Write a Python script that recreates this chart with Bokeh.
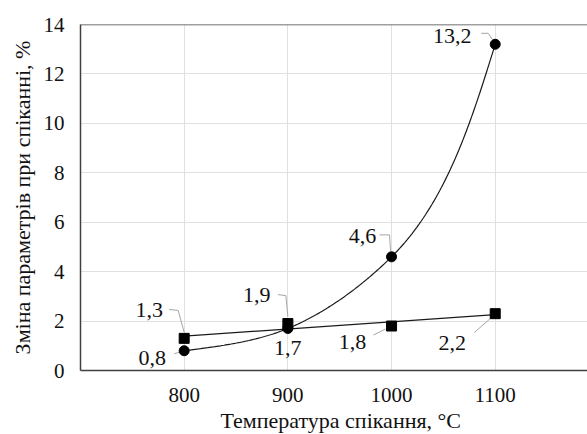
import numpy as np
from bokeh.plotting import figure
from bokeh.models import FixedTicker, Span, Range1d, Title
from bokeh.core.properties import value
from bokeh.embed import file_html
from bokeh.resources import INLINE

# ---- data ----
temps = [800, 900, 1000, 1100]
circle_vals = [0.8, 1.7, 4.6, 13.2]
square_vals = [1.3, 1.9, 1.8, 2.3]
circle_labels = ["0,8", "1,7", "4,6", "13,2"]
square_labels = ["1,3", "1,9", "1,8", "2,2"]
x_ticks = [800, 900, 1000, 1100]
y_ticks = [0, 2, 4, 6, 8, 10, 12, 14]
x_title = "Температура спікання, °C"
y_title = "Зміна параметрів при спіканні, %"

# label placement (screen pixel offsets from point: text centre, leader polyline)
circle_text_off = [(-32, 7), (0, 20), (-29, -21), (-43, -8)]
circle_leaders = [[(-10, 3), (-3, 1)], None, [(-12, -22), (-2, -22), (-1, -6)],
                  [(-14, -11), (-7, -11), (-3, -5)]]
square_text_off = [(-35, -28), (-31, -29), (-39, 16), (-43, 29)]
square_leaders = [[(-15, -29), (-6, -28), (0, -6)], [(-10, -29), (-2, -28), (0, -7)],
                  [(-18, 9), (-6, 3)], [(-21, 19), (-5, 5)]]

FONT = "Liberation Serif"
XMIN, XMAX, YMIN, YMAX = 700, 1189, 0, 14
FW, FH = 507, 347

p = figure(width=587, height=434,
           output_backend="svg", toolbar_location=None,
           x_range=Range1d(XMIN, XMAX), y_range=Range1d(YMIN, YMAX),
           min_border_left=80, min_border_right=0, min_border_top=24,
           min_border_bottom=63)
p.outline_line_color = None
p.background_fill_color = "white"
p.border_fill_color = "white"

pxx = FW / (XMAX - XMIN)
pxy = FH / (YMAX - YMIN)

# axes
for ax in (p.xaxis[0], p.yaxis[0]):
    ax.major_tick_line_color = None
    ax.minor_tick_line_color = None
    ax.axis_line_color = "#404040"
    ax.axis_line_width = 1.5
    ax.major_label_text_font = FONT
    ax.major_label_text_font_size = "21px"
    ax.major_label_text_color = "#111111"
p.xaxis.ticker = FixedTicker(ticks=x_ticks)
p.yaxis.ticker = FixedTicker(ticks=y_ticks)
p.xaxis.major_label_standoff = 11
p.yaxis.major_label_standoff = 10
p.yaxis.axis_label = y_title
p.yaxis.axis_label_text_font = FONT
p.yaxis.axis_label_text_font_size = "22px"
p.yaxis.axis_label_text_font_style = "normal"
p.yaxis.axis_label_text_color = "#111111"
p.yaxis.axis_label_standoff = 6

p.add_layout(Title(text=x_title, align="left", offset=140, text_font=FONT,
                   text_font_size="22px", text_font_style="normal",
                   text_color="#111111", standoff=3), "below")

p.xgrid.ticker = FixedTicker(ticks=x_ticks)
p.ygrid.ticker = FixedTicker(ticks=y_ticks[1:-1])
p.xgrid.grid_line_color = "#e0e0e0"
p.ygrid.grid_line_color = "#e0e0e0"
p.add_layout(Span(location=YMAX, dimension="width", line_color="#404040", line_width=1.5))

# smooth curve: chord-length Catmull-Rom (screen space) with natural ends
def smooth(xs, ys, n=60):
    P = np.column_stack([np.asarray(xs, float) * pxx, np.asarray(ys, float) * pxy])
    N = len(P)
    d = np.linalg.norm(np.diff(P, axis=0), axis=1)
    T = [None] * N
    for i in range(1, N - 1):
        T[i] = ((P[i] - P[i - 1]) / d[i - 1] - (P[i + 1] - P[i - 1]) / (d[i - 1] + d[i])
                + (P[i + 1] - P[i]) / d[i])
    out = []
    for i in range(N - 1):
        h = d[i]
        m1 = T[i] * h if T[i] is not None else None
        m2 = T[i + 1] * h if T[i + 1] is not None else None
        if m1 is None:
            m1 = (3 * (P[i + 1] - P[i]) - m2) / 2
        if m2 is None:
            m2 = (3 * (P[i + 1] - P[i]) - m1) / 2
        s = np.linspace(0, 1, n)[:, None]
        h00 = 2 * s**3 - 3 * s**2 + 1
        h10 = s**3 - 2 * s**2 + s
        h01 = -2 * s**3 + 3 * s**2
        h11 = s**3 - s**2
        seg = h00 * P[i] + h10 * m1 + h01 * P[i + 1] + h11 * m2
        out.append(seg if i == 0 else seg[1:])
    S = np.vstack(out)
    return S[:, 0] / pxx, S[:, 1] / pxy

cx, cy = smooth(temps, circle_vals)
p.line(cx, cy, line_color="#1a1a1a", line_width=1.2)

# linear trend through squares
k, b = np.polyfit(temps, square_vals, 1)
p.line([temps[0], temps[-1]], [k * temps[0] + b, k * temps[-1] + b],
       line_color="#1a1a1a", line_width=1.2)

# leaders
def draw_leaders(xs, ys, leaders):
    lx, ly = [], []
    for x, y, L in zip(xs, ys, leaders):
        if not L:
            continue
        lx.append([x + dx / pxx for dx, dy in L])
        ly.append([y - dy / pxy for dx, dy in L])
    p.multi_line(lx, ly, line_color="#a6a6a6", line_width=1)

draw_leaders(temps, circle_vals, circle_leaders)
draw_leaders(temps, square_vals, square_leaders)

p.scatter(temps, square_vals, marker="square", size=10, fill_color="black", line_color="black")
p.scatter(temps, circle_vals, marker="circle", size=10, fill_color="black", line_color="black")

def draw_labels(xs, ys, labels, offs):
    for x, y, t, (dx, dy) in zip(xs, ys, labels, offs):
        p.text([x], [y], text=[t], x_offset=dx, y_offset=dy, text_align="center",
               text_baseline="middle", text_font=value(FONT), text_font_size="22px",
               text_color="#111111")

draw_labels(temps, circle_vals, circle_labels, circle_text_off)
draw_labels(temps, square_vals, square_labels, square_text_off)

open("out.html", "w").write(file_html(p, INLINE))
